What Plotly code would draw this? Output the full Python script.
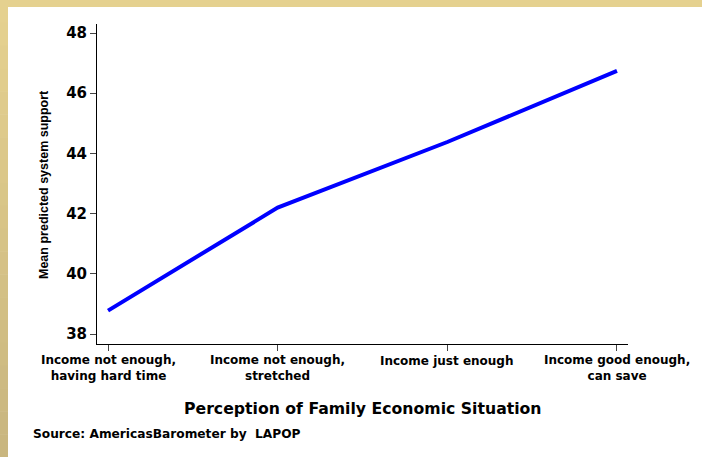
import plotly.graph_objects as go

categories = [("Income not enough,", "having hard time"), ("Income not enough,", "stretched"),
              ("Income just enough", ""), ("Income good enough,", "can save")]
support = [38.78, 42.2, 44.38, 46.74]
y_ticks = [38, 40, 42, 44, 46, 48]

W, H = 702, 457
L, R, T, B = 97, 628, 24, 344

fig = go.Figure()
fig.add_trace(go.Scatter(x=list(range(len(categories))), y=support, mode="lines",
                         line=dict(color="#0000FF", width=4), hoverinfo="skip"))

font = "DejaVu Sans, sans-serif"
font2 = "Liberation Sans, Arial, sans-serif"
fig.update_layout(
    width=W, height=H,
    margin=dict(l=L, r=W - R, t=T, b=H - B),
    paper_bgcolor="white", plot_bgcolor="white",
    showlegend=False,
    font=dict(family=font, color="black"),
    xaxis=dict(range=[-0.065, 3.065], tickmode="array", tickvals=list(range(len(categories))),
               showticklabels=False, ticks="outside", ticklen=6,
               tickcolor="#444", showline=True, linecolor="black", linewidth=1,
               showgrid=False, zeroline=False),
    yaxis=dict(range=[37.67, 48.3], tickmode="array", tickvals=y_ticks,
               ticktext=[f"<b>{v}</b>" for v in y_ticks], ticks="outside", ticklen=6,
               tickcolor="#444", showline=True, linecolor="black", linewidth=1,
               showgrid=False, zeroline=False, tickfont=dict(size=15, family=font)),
)

def px_x(px):
    return (px - L) / (R - L)

def px_y(py):
    return (B - py) / (B - T)

shapes = []
shapes.append(dict(type="rect", xref="paper", yref="paper", x0=px_x(0), x1=px_x(W),
                   y0=px_y(7), y1=px_y(0), fillcolor="#E5D18F", line=dict(width=0), layer="below"))
n = 20
c0 = (0xE5, 0xD1, 0x8F)
c1 = (0xC9, 0xB6, 0x7F)
for i in range(n):
    t = i / (n - 1)
    c = tuple(round(a + (b - a) * t) for a, b in zip(c0, c1))
    shapes.append(dict(type="rect", xref="paper", yref="paper", x0=px_x(0), x1=px_x(8),
                       y0=px_y(H * (i + 1) / n + 0.5), y1=px_y(H * i / n),
                       fillcolor="rgb(%d,%d,%d)" % c, line=dict(width=0), layer="below"))
fig.update_layout(shapes=shapes)

for i, (l1, l2) in enumerate(categories):
    if l2:
        txt, yc = f"<b>{l1}</b><br><b>{l2}</b>", 368
    else:
        txt, yc = f"<b>{l1}</b>", 361
    fig.add_annotation(text=txt, xref="x", yref="paper", x=i, y=px_y(yc),
                       showarrow=False, font=dict(size=12, family=font),
                       xanchor="center", yanchor="middle", align="center")

fig.add_annotation(text="<b>Mean predicted system support</b>", xref="paper", yref="paper",
                   x=px_x(44), y=px_y(185), textangle=-90, showarrow=False,
                   font=dict(size=12.5, family=font2), xanchor="center", yanchor="middle")
fig.add_annotation(text="<b>Perception of Family Economic Situation</b>", xref="paper", yref="paper",
                   x=px_x(363), y=px_y(408), showarrow=False,
                   font=dict(size=15.7, family=font), xanchor="center", yanchor="middle")
fig.add_annotation(text="<b>Source: AmericasBarometer by  LAPOP</b>", xref="paper", yref="paper",
                   x=px_x(31), y=px_y(434), showarrow=False,
                   font=dict(size=12.2, family=font), xanchor="left", yanchor="middle")

fig.write_html("out.html", config={"displayModeBar": False},
               post_script="document.body.style.margin='0px';")
